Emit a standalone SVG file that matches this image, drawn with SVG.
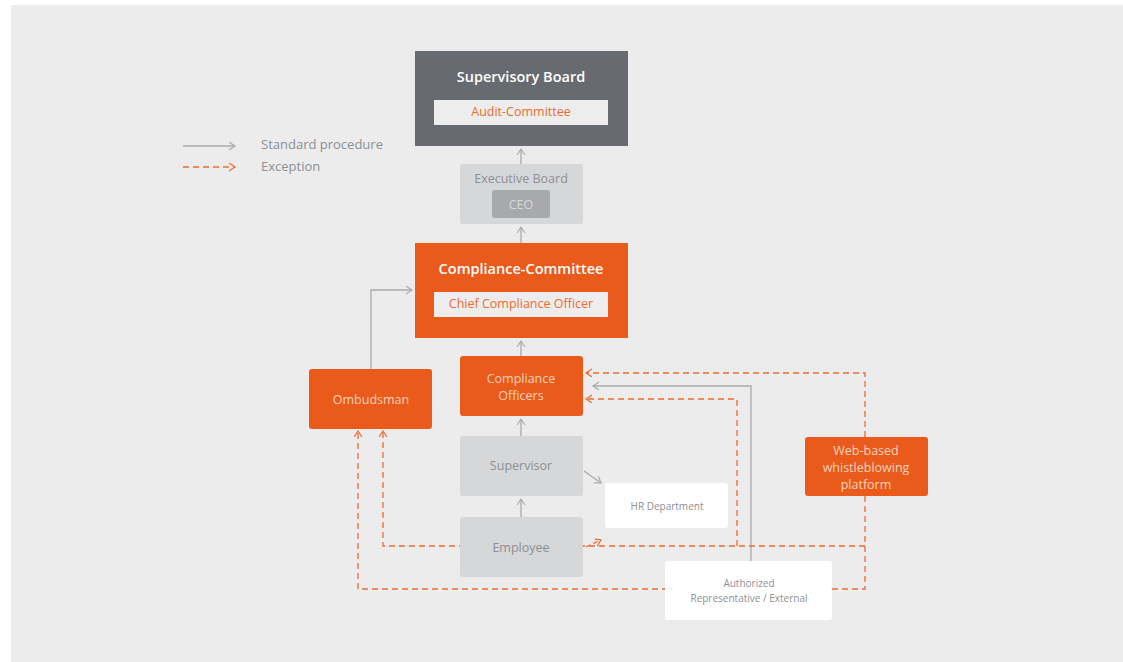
<svg xmlns="http://www.w3.org/2000/svg" width="1123" height="662" viewBox="0 0 1123 662">
<defs>
<style>
.t{font-family:"Open Sans","Noto Sans","Liberation Sans",sans-serif;text-anchor:middle}
.g{stroke:#a9abae;stroke-width:1.3;fill:none}
.d{stroke:#ee6a30;stroke-width:1.3;fill:none;stroke-dasharray:6 4}
.light{fill:#d6d7d9}
.orange{fill:#e95a1b}
.lt{fill:#8d9094}
.pt{fill:#fbd2bd}
</style>
<marker id="ag" markerUnits="userSpaceOnUse" markerWidth="10" markerHeight="10" refX="6" refY="4" orient="auto" viewBox="0 0 10 10">
<path d="M0,0 L6,4 L0,8" fill="none" stroke="#a9abae" stroke-width="1.2"/>
</marker>
<marker id="ao" markerUnits="userSpaceOnUse" markerWidth="10" markerHeight="10" refX="6" refY="4" orient="auto" viewBox="0 0 10 10">
<path d="M0,0 L6,4 L0,8" fill="none" stroke="#ee6a30" stroke-width="1.2"/>
</marker>
</defs>
<rect x="0" y="0" width="1123" height="662" fill="#ffffff"/>
<rect x="11" y="5" width="1112" height="657" fill="#ebeceb"/>

<g id="legend">
<line x1="183" y1="146" x2="235" y2="146" class="g" marker-end="url(#ag)"/>
<line x1="183" y1="167" x2="235" y2="167" class="d" marker-end="url(#ao)"/>
<text x="261" y="149" class="lt" style="font-family:'Open Sans','Noto Sans',sans-serif;font-size:13px">Standard procedure</text>
<text x="261" y="171" class="lt" style="font-family:'Open Sans','Noto Sans',sans-serif;font-size:13px">Exception</text>
</g>

<g id="connectors">
<line x1="521" y1="164" x2="521" y2="149" class="g" marker-end="url(#ag)"/>
<line x1="521" y1="243" x2="521" y2="227" class="g" marker-end="url(#ag)"/>
<line x1="521" y1="356" x2="521" y2="341" class="g" marker-end="url(#ag)"/>
<line x1="521" y1="436" x2="521" y2="419" class="g" marker-end="url(#ag)"/>
<line x1="521" y1="517" x2="521" y2="499" class="g" marker-end="url(#ag)"/>
<polyline points="371,369 371,290 412,290" class="g" marker-end="url(#ag)"/>
<line x1="584" y1="471" x2="601" y2="483" class="g" marker-end="url(#ag)"/>
<polyline points="751,561 751,386 593,386" class="g" marker-end="url(#ag)"/>
<polyline points="865,437 865,373 586,373" class="d" marker-end="url(#ao)"/>
<polyline points="737,546 737,399 586,399" class="d" marker-end="url(#ao)"/>
<polyline points="865,496 865,589 358,589 358,431" class="d" marker-end="url(#ao)"/>
<polyline points="865,546 383,546 383,431" class="d" marker-end="url(#ao)"/>
<line x1="586" y1="547" x2="601" y2="540" class="d" style="stroke-dasharray:5 3" marker-end="url(#ao)"/>
</g>

<g id="supervisory-board">
<rect x="415" y="51" width="213" height="95" fill="#676a71"/>
<text x="521" y="82" class="t" style="font-size:14.5px;font-weight:600" fill="#ffffff">Supervisory Board</text>
<rect x="434" y="100" width="174" height="25" fill="#ecedec"/>
<text x="521" y="116" class="t" style="font-size:12.5px" fill="#ee6a30">Audit-Committee</text>
</g>

<g id="executive-board">
<rect x="460" y="164" width="123" height="60" rx="3" class="light"/>
<text x="521" y="183" class="t lt" style="font-size:12.5px">Executive Board</text>
<rect x="492" y="190" width="58" height="28" rx="3" fill="#a7a9ac"/>
<text x="521" y="209" class="t" style="font-size:12.5px" fill="#d8d9db">CEO</text>
</g>

<g id="compliance-committee">
<rect x="415" y="243" width="213" height="95" class="orange"/>
<text x="521" y="274" class="t" style="font-size:14.5px;font-weight:600" fill="#ffffff">Compliance-Committee</text>
<rect x="434" y="292" width="174" height="25" fill="#ecedec"/>
<text x="521" y="308" class="t" style="font-size:12.5px" fill="#ee6a30">Chief Compliance Officer</text>
</g>

<g id="ombudsman">
<rect x="309" y="369" width="123" height="60" rx="3" class="orange"/>
<text x="371" y="404" class="t pt" style="font-size:12.5px">Ombudsman</text>
</g>

<g id="compliance-officers">
<rect x="460" y="356" width="123" height="60" rx="3" class="orange"/>
<text x="521" y="383" class="t pt" style="font-size:12.5px">Compliance</text>
<text x="521" y="400" class="t pt" style="font-size:12.5px">Officers</text>
</g>

<g id="supervisor">
<rect x="460" y="436" width="123" height="60" rx="3" class="light"/>
<text x="521" y="470" class="t lt" style="font-size:12.5px">Supervisor</text>
</g>

<g id="employee">
<rect x="460" y="517" width="123" height="60" rx="3" class="light"/>
<text x="521" y="552" class="t lt" style="font-size:12.5px">Employee</text>
</g>

<g id="hr-department">
<rect x="605" y="483" width="123" height="45" rx="3" fill="#ffffff"/>
<text x="667" y="510" class="t lt" style="font-size:10px">HR Department</text>
</g>

<g id="web-platform">
<rect x="805" y="437" width="123" height="59" rx="3" class="orange"/>
<text x="866" y="455" class="t pt" style="font-size:12.5px">Web-based</text>
<text x="866" y="472" class="t pt" style="font-size:12.5px">whistleblowing</text>
<text x="866" y="489" class="t pt" style="font-size:12.5px">platform</text>
</g>

<g id="authorized-representative">
<rect x="665" y="561" width="167" height="59" rx="3" fill="#ffffff"/>
<text x="749" y="587" class="t lt" style="font-size:10px">Authorized</text>
<text x="749" y="602" class="t lt" style="font-size:10px">Representative / External</text>
</g>
</svg>
